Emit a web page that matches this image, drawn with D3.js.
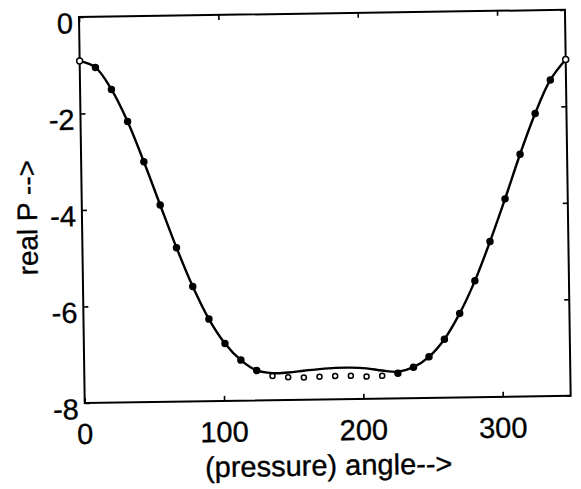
<!DOCTYPE html>
<html>
<head>
<meta charset="utf-8">
<script src="https://cdn.jsdelivr.net/npm/d3@7"></script>
<style>
  html, body { margin: 0; padding: 0; background: #fff; }
  svg { display: block; }
  text { font-family: "Liberation Sans", Arial, Helvetica, sans-serif; fill: #000; stroke: #000; stroke-width: 0.35px; }
</style>
</head>
<body>
<svg id="chart" width="581" height="489"></svg>
<script>
// ---- data ----
const angles = [0, 11.25, 22.5, 33.75, 45, 56.25, 67.5, 78.75, 90, 101.25, 112.5, 123.75,
  135, 146.25, 157.5, 168.75, 180, 191.25, 202.5, 213.75, 225, 236.25, 247.5, 258.75,
  270, 281.25, 292.5, 303.75, 315, 326.25, 337.5, 348.75];
const pMeasured = [-0.91, -1.05, -1.51, -2.18, -3.02, -3.92, -4.81, -5.62, -6.30, -6.81, -7.16, -7.38,
  -7.50, -7.53, -7.54, -7.53, -7.52, -7.52, -7.54, -7.53, -7.48, -7.36, -7.15, -6.79,
  -6.26, -5.59, -4.78, -3.90, -2.98, -2.14, -1.45, -1.03];
const pFitted = [-0.91, -1.05, -1.51, -2.18, -3.02, -3.92, -4.81, -5.62, -6.30, -6.81, -7.16, -7.38,
  -7.44, -7.43, -7.40, -7.37, -7.35, -7.35, -7.37, -7.42, -7.45, -7.36, -7.15, -6.79,
  -6.26, -5.59, -4.78, -3.90, -2.98, -2.14, -1.45, -1.03];
const xTicks = [0, 100, 200, 300];
const yTicks = [0, -2, -4, -6, -8];
const xTitle = "(pressure) angle-->";
const yTitle = "real P -->";

// ---- layout ----
const W = 486, H = 386;
const svg = d3.select("#chart");
const g = svg.append("g").attr("transform", "translate(79,17) rotate(-0.85)");

const x = d3.scaleLinear().domain([0, 348.75]).range([0, W]);
const y = d3.scaleLinear().domain([-8, 0]).range([H, 0]);

// frame
g.append("rect").attr("x", 0).attr("y", 0).attr("width", W).attr("height", H)
  .attr("fill", "none").attr("stroke", "#000").attr("stroke-width", 2);

// inward ticks via d3 axes
const tickLen = 5;
const axB = g.append("g").attr("transform", `translate(0,${H})`)
  .call(d3.axisBottom(x).tickValues(xTicks).tickSizeInner(-tickLen).tickSizeOuter(0).tickFormat(""));
const axT = g.append("g")
  .call(d3.axisTop(x).tickValues(xTicks).tickSizeInner(-tickLen).tickSizeOuter(0).tickFormat(""));
const axL = g.append("g")
  .call(d3.axisLeft(y).tickValues(yTicks).tickSizeInner(-tickLen).tickSizeOuter(0).tickFormat(""));
const axR = g.append("g").attr("transform", `translate(${W},0)`)
  .call(d3.axisRight(y).tickValues(yTicks).tickSizeInner(-tickLen).tickSizeOuter(0).tickFormat(""));
[axB, axT, axL, axR].forEach(a => {
  a.select(".domain").remove();
  a.selectAll("line").attr("stroke", "#000").attr("stroke-width", 1.6);
});

// tick labels
g.append("g").selectAll("text").data(xTicks).join("text")
  .attr("x", d => x(d)).attr("y", H + 41)
  .attr("text-anchor", "middle").attr("font-size", 29)
  .text(d => d);
g.append("g").selectAll("text").data(yTicks).join("text")
  .attr("x", -6).attr("y", d => y(d) + 6)
  .attr("dy", "0.35em")
  .attr("text-anchor", "end").attr("font-size", 29)
  .text(d => d === 0 ? "0" : "-" + Math.abs(d));

// axis titles
g.append("text").attr("x", W / 2).attr("y", H + 76)
  .attr("text-anchor", "middle").attr("font-size", 29).text(xTitle);
g.append("text").attr("transform", `translate(-45,${H / 2 + 7}) rotate(-90)`)
  .attr("text-anchor", "middle").attr("font-size", 28).text(yTitle);

// fitted curve
const pts = angles.map((a, i) => ({ a, m: pMeasured[i], f: pFitted[i] }));
const line = d3.line().x(d => x(d.a)).y(d => y(d.f)).curve(d3.curveCatmullRom.alpha(0.5));
g.append("path").datum(pts).attr("d", line)
  .attr("fill", "none").attr("stroke", "#000").attr("stroke-width", 2.4);

// measured markers
g.append("g").selectAll("circle").data(pts).join("circle")
  .attr("cx", d => x(d.a)).attr("cy", d => y(d.m))
  .attr("r", d => Math.abs(d.m - d.f) < 0.04 ? 3 : 2.5)
  .attr("fill", d => Math.abs(d.m - d.f) < 0.04 && d.a > 0 && d.a < 348 ? "#000" : "#fff")
  .attr("stroke", "#000").attr("stroke-width", 1.5);
</script>
</body>
</html>
